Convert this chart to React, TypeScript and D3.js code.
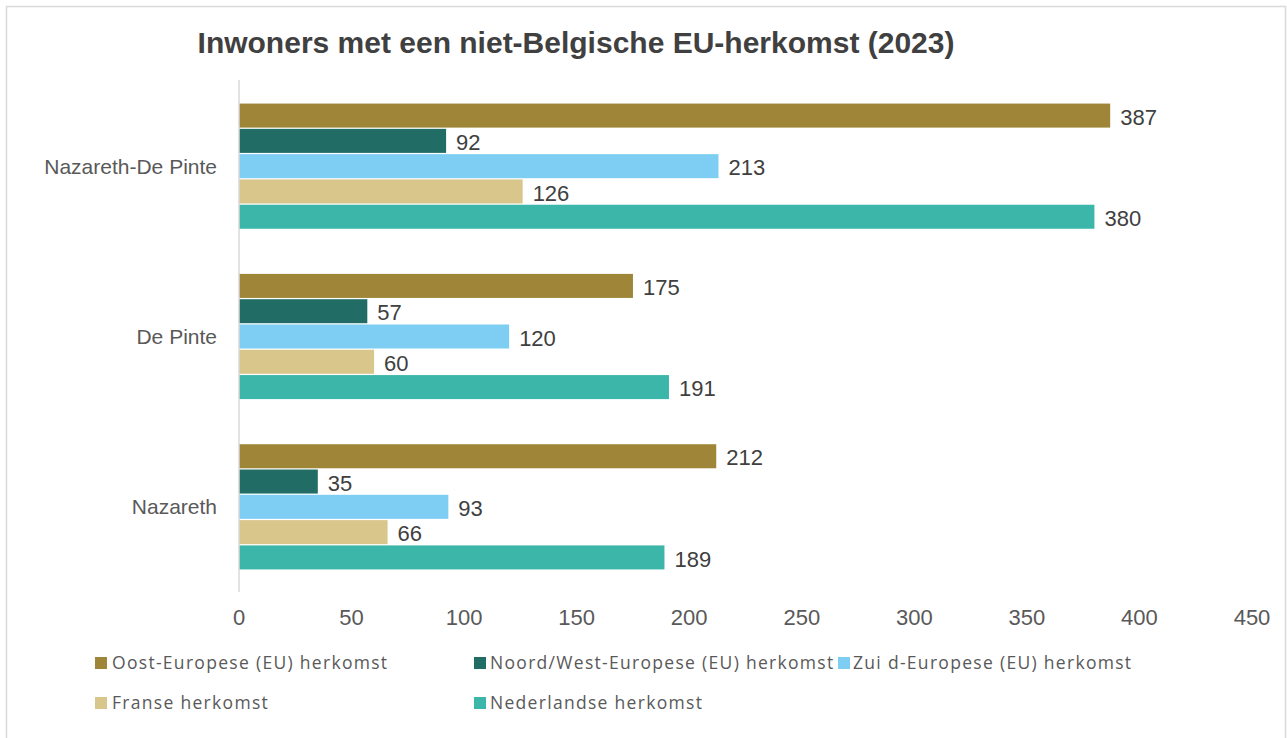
import React from "react";
import * as d3 from "d3";

const categories = ["Nazareth-De Pinte", "De Pinte", "Nazareth"];
const seriesNames = [
  "Oost-Europese (EU) herkomst",
  "Noord/West-Europese (EU) herkomst",
  "Zui d-Europese (EU) herkomst",
  "Franse herkomst",
  "Nederlandse herkomst",
];
const seriesColors = ["#9E8537", "#216C64", "#7DCEF2", "#D8C68B", "#3CB6A9"];
const oost = [387, 175, 212];
const noordWest = [92, 57, 35];
const zuid = [213, 120, 93];
const franse = [126, 60, 66];
const nederlandse = [380, 191, 189];
const xTicks = [0, 50, 100, 150, 200, 250, 300, 350, 400, 450];
const title = "Inwoners met een niet-Belgische EU-herkomst (2023)";

const seriesValues = [oost, noordWest, zuid, franse, nederlandse];

export default function App() {
  const W = 1287;
  const H = 738;
  const x = d3.scaleLinear().domain([0, 450]).range([239, 1252]);
  const y = d3
    .scaleBand<string>()
    .domain(categories)
    .range([81, 592])
    .paddingInner(0.265)
    .paddingOuter(0.1325);
  const inner = d3
    .scaleBand<string>()
    .domain(seriesNames)
    .range([0, y.bandwidth()])
    .paddingInner(0.05)
    .paddingOuter(0);

  const legendPos = [
    { mx: 95, my: 657, tx: 112 },
    { mx: 474, my: 657, tx: 490 },
    { mx: 838, my: 657, tx: 853 },
    { mx: 95, my: 697, tx: 112 },
    { mx: 474, my: 697, tx: 490 },
  ];

  return (
    <svg
      width={W}
      height={H}
      style={{ position: "absolute", left: 0, top: 0, background: "#fff" }}
    >
      <rect x={0} y={0} width={W} height={H} fill="#fff" />
      <rect
        x={6.5}
        y={6.5}
        width={1279}
        height={760}
        fill="#fff"
        stroke="#d9d9d9"
        strokeWidth={1.5}
      />
      <text
        x={576}
        y={53}
        textAnchor="middle"
        fontFamily="'Liberation Sans', Arial, sans-serif"
        fontWeight="bold"
        fontSize={30}
        fill="#404040"
      >
        {title}
      </text>

      {categories.map((c, ci) => (
        <g key={c}>
          {seriesNames.map((s, si) => {
            const v = seriesValues[si][ci];
            const by = (y(c) as number) + (inner(s) as number);
            return (
              <g key={s}>
                <rect
                  x={x(0)}
                  y={by}
                  width={x(v) - x(0)}
                  height={inner.bandwidth()}
                  fill={seriesColors[si]}
                />
                <text
                  x={x(v) + 10}
                  y={by + inner.bandwidth() / 2}
                  dy="0.42em"
                  fontFamily="'Liberation Sans', Arial, sans-serif"
                  fontSize={22}
                  fill="#404040"
                >
                  {v}
                </text>
              </g>
            );
          })}
          <text
            x={217}
            y={(y(c) as number) + y.bandwidth() / 2}
            dy="0.36em"
            textAnchor="end"
            fontFamily="'Liberation Sans', Arial, sans-serif"
            fontSize={21}
            fill="#595959"
          >
            {c}
          </text>
        </g>
      ))}

      <line x1={x(0)} x2={x(0)} y1={80} y2={592} stroke="#d9d9d9" strokeWidth={1.5} />

      {xTicks.map((t) => (
        <text
          key={t}
          x={x(t)}
          y={625}
          textAnchor="middle"
          fontFamily="'Liberation Sans', Arial, sans-serif"
          fontSize={22}
          fill="#595959"
        >
          {t}
        </text>
      ))}

      {seriesNames.map((s, i) => (
        <g key={s}>
          <rect
            x={legendPos[i].mx}
            y={legendPos[i].my}
            width={12}
            height={12}
            fill={seriesColors[i]}
          />
          <text
            x={legendPos[i].tx}
            y={legendPos[i].my + 6}
            dy="0.36em"
            fontFamily="'Open Sans', 'Noto Sans', sans-serif"
            fontSize={17.5}
            letterSpacing={1.3}
            fill="#595959"
          >
            {s}
          </text>
        </g>
      ))}
    </svg>
  );
}
